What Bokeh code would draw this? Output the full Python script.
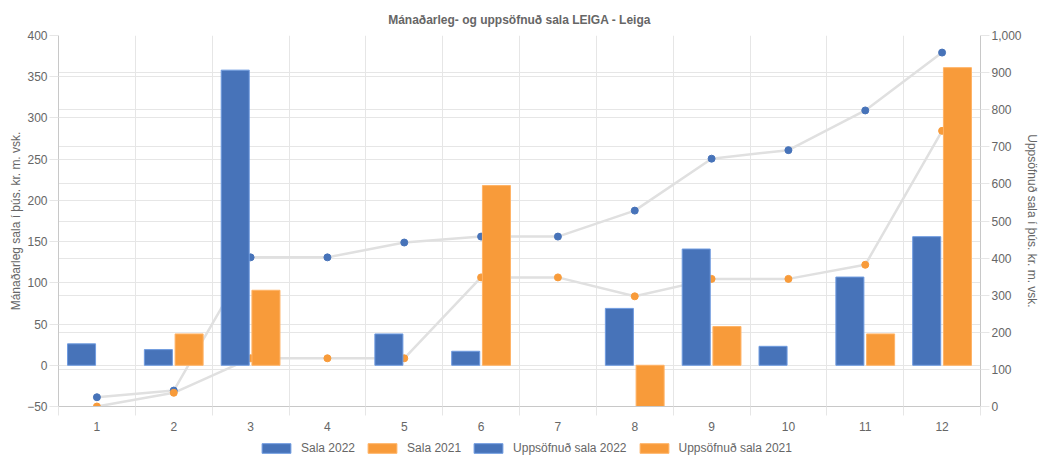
import math
from bokeh.plotting import figure
from bokeh.layouts import column
from bokeh.models import (Range1d, LinearAxis, FixedTicker, NumeralTickFormatter, Legend,
                          LegendItem, ColumnDataSource, Grid)
from bokeh.transform import dodge
from bokeh.embed import file_html
from bokeh.resources import INLINE

# ---- data ----
months = [1, 2, 3, 4, 5, 6, 7, 8, 9, 10, 11, 12]
month_labels = ["1", "2", "3", "4", "5", "6", "7", "8", "9", "10", "11", "12"]
sala_2022 = [26, 19, 358, None, 38, 17, None, 69, 141, 23, 107, 156]
sala_2021 = [None, 38, 91, None, None, 218, None, -51, 47, None, 38, 361]
uppsofnud_2022 = [25, 43, 402, 402, 442, 458, 458, 528, 668, 691, 798, 954]
uppsofnud_2021 = [0, 37, 130, 130, 130, 348, 348, 297, 344, 344, 382, 743]
left_ticks = [-50, 0, 50, 100, 150, 200, 250, 300, 350, 400]
right_ticks = [0, 100, 200, 300, 400, 500, 600, 700, 800, 900, 1000]
legend_labels = ["Sala 2022", "Sala 2021", "Uppsöfnuð sala 2022", "Uppsöfnuð sala 2021"]

title = "Mánaðarleg- og uppsöfnuð sala LEIGA - Leiga"
left_label = "Mánaðarleg sala í þús. kr. m. vsk."
right_label = "Uppsöfnuð sala í þús. kr. m. vsk."

def nz(vals):
    return [float("nan") if v is None else v for v in vals]

src = ColumnDataSource(dict(month=months, s22=nz(sala_2022), s21=nz(sala_2021),
                            c22=uppsofnud_2022, c21=uppsofnud_2021))

FONT = "Liberation Sans"
TXT = "#666666"
GRID = "#e6e6e6"
AXIS = "#c8c8c8"
BLUE = "#4773B9"
ORANGE = "#F89B3A"
BLUE_EDGE = "#6f9be0"
ORANGE_EDGE = "#ffb366"

p = figure(width=1041, height=435, output_backend="svg", toolbar_location=None,
           x_range=Range1d(0.5, 12.5), y_range=Range1d(-50, 400),
           min_border_left=58, min_border_right=60, min_border_top=35, min_border_bottom=29)
p.outline_line_color = None
p.background_fill_color = "white"
p.border_fill_color = "white"

p.title.text = title
p.title.align = "center"
p.title.text_font = FONT
p.title.text_font_size = "12px"
p.title.text_font_style = "bold"
p.title.text_color = TXT
p.title.standoff = 18

p.extra_y_ranges = {"cum": Range1d(0, 1000)}

ya = p.yaxis[0]
ya.ticker = FixedTicker(ticks=left_ticks)
ya.axis_label = left_label

right = LinearAxis(y_range_name="cum", ticker=FixedTicker(ticks=right_ticks),
                   formatter=NumeralTickFormatter(format="0,0"), axis_label=right_label)
p.add_layout(right, "right")

for ax in (ya, right):
    ax.axis_line_color = AXIS
    ax.major_tick_line_color = GRID
    ax.major_tick_out = 9
    ax.major_tick_in = 0
    ax.minor_tick_line_color = None
    ax.major_label_standoff = 2
    ax.major_label_text_font = FONT
    ax.major_label_text_font_size = "12px"
    ax.major_label_text_color = TXT
    ax.axis_label_text_font = FONT
    ax.axis_label_text_font_size = "12px"
    ax.axis_label_text_font_style = "normal"
    ax.axis_label_text_color = TXT
ya.axis_label_standoff = 1
right.axis_label_standoff = 0

boundaries = [m - 0.5 for m in months] + [12.5]
xa = p.xaxis[0]
xa.ticker = FixedTicker(ticks=months, minor_ticks=boundaries)
xa.major_label_overrides = {m: l for m, l in zip(months, month_labels)}
xa.axis_line_color = AXIS
xa.major_tick_line_color = None
xa.major_tick_out = 0
xa.major_tick_in = 0
xa.minor_tick_line_color = GRID
xa.minor_tick_out = 9
xa.minor_tick_in = 0
xa.major_label_standoff = 6
xa.major_label_text_font = FONT
xa.major_label_text_font_size = "12px"
xa.major_label_text_color = TXT

p.xgrid.ticker = FixedTicker(ticks=boundaries)
p.xgrid.grid_line_color = GRID
p.ygrid.grid_line_color = GRID
rgrid = Grid(dimension=1, ticker=FixedTicker(ticks=right_ticks), y_range_name="cum",
             grid_line_color=GRID)
p.add_layout(rgrid)

p.line("month", "c22", source=src, y_range_name="cum", line_color="#e0e0e0", line_width=2.5)
p.line("month", "c21", source=src, y_range_name="cum", line_color="#e0e0e0", line_width=2.5)
p.scatter("month", "c22", source=src, y_range_name="cum", size=7, fill_color=BLUE, line_color=BLUE)
p.scatter("month", "c21", source=src, y_range_name="cum", size=7, fill_color=ORANGE, line_color=ORANGE)

b22 = p.vbar(x=dodge("month", -0.2), top="s22", bottom=0, width=0.365, source=src,
             fill_color=BLUE, line_color=BLUE_EDGE, line_width=1)
b21 = p.vbar(x=dodge("month", 0.2), top="s21", bottom=0, width=0.365, source=src,
             fill_color=ORANGE, line_color=ORANGE_EDGE, line_width=1)

# ---- legend strip (separate figure below the chart) ----
lf = figure(width=1041, height=20, output_backend="svg", toolbar_location=None,
            x_range=Range1d(-100, -99), y_range=Range1d(0, 1),
            x_axis_location=None, y_axis_location=None,
            min_border_left=0, min_border_right=0, min_border_top=0, min_border_bottom=0)
lf.outline_line_color = None
lf.xgrid.visible = False
lf.ygrid.visible = False
lf.background_fill_color = "white"
lf.border_fill_color = "white"
lb22 = lf.vbar(x="month", top="s22", bottom=0, width=0.5, source=src,
               fill_color=BLUE, line_color=BLUE_EDGE, visible=False)
lb21 = lf.vbar(x="month", top="s21", bottom=0, width=0.5, source=src,
               fill_color=ORANGE, line_color=ORANGE_EDGE, visible=False)
legend = Legend(items=[LegendItem(label=legend_labels[0], renderers=[lb22]),
                       LegendItem(label=legend_labels[1], renderers=[lb21]),
                       LegendItem(label=legend_labels[2], renderers=[lb22]),
                       LegendItem(label=legend_labels[3], renderers=[lb21])],
                orientation="horizontal", location=(200, 0),
                glyph_width=36, glyph_height=12, label_height=12, label_standoff=7,
                spacing=9, padding=2, margin=0, border_line_color=None,
                background_fill_alpha=0, inactive_fill_alpha=0, label_text_font=FONT,
                label_text_font_size="12px", label_text_color=TXT)
lf.add_layout(legend)

layout = column(p, lf, spacing=0)
open("out.html", "w").write(file_html(layout, INLINE))
